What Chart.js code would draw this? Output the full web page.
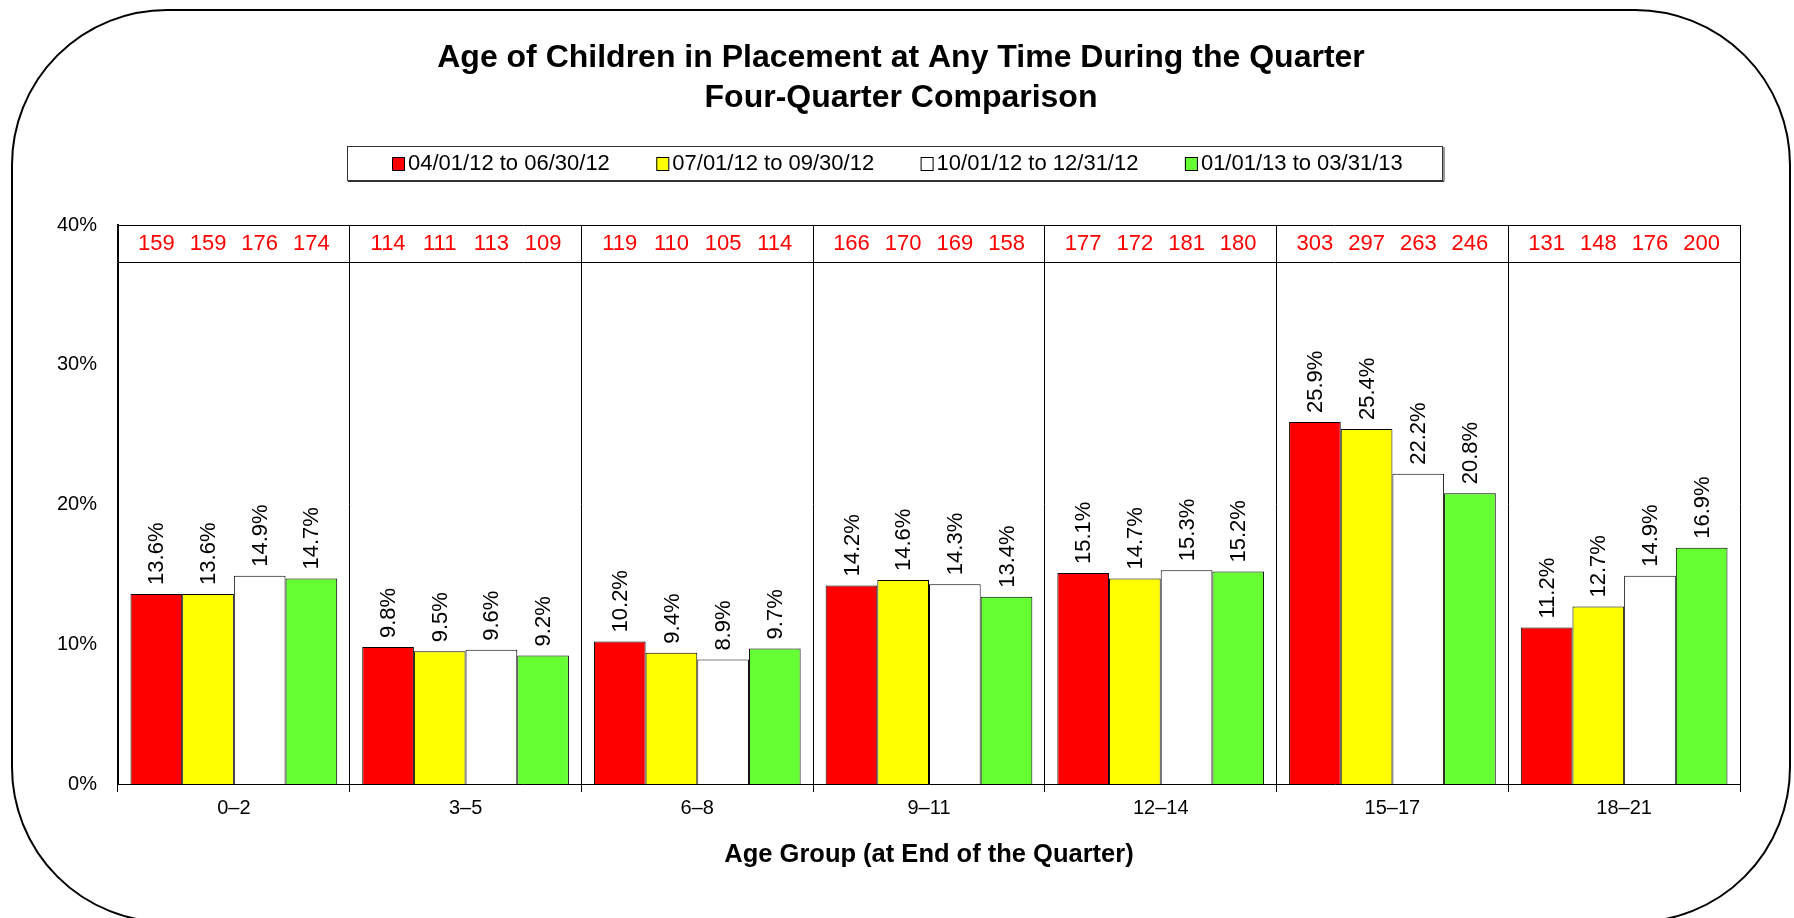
<!DOCTYPE html>
<html>
<head>
<meta charset="utf-8">
<title>Age of Children in Placement</title>
<script src="https://cdn.jsdelivr.net/npm/chart.js@4.4.1/dist/chart.umd.min.js"></script>
<style>
  html, body { margin: 0; padding: 0; background: #fff; }
  canvas { display: block; }
</style>
</head>
<body>
<canvas id="chart" width="1794" height="918"></canvas>
<script>
const AGE_GROUPS = ['0–2', '3–5', '6–8', '9–11', '12–14', '15–17', '18–21']
const QUARTERS = ['04/01/12 to 06/30/12', '07/01/12 to 09/30/12', '10/01/12 to 12/31/12', '01/01/13 to 03/31/13']
const COLORS = ['#ff0000', '#ffff00', '#ffffff', '#66ff33']

// percent of children in each age group
const PCT_Q1 = [13.6, 9.8, 10.2, 14.2, 15.1, 25.9, 11.2]
const PCT_Q2 = [13.6, 9.5, 9.4, 14.6, 14.7, 25.4, 12.7]
const PCT_Q3 = [14.9, 9.6, 8.9, 14.3, 15.3, 22.2, 14.9]
const PCT_Q4 = [14.7, 9.2, 9.7, 13.4, 15.2, 20.8, 16.9]

// head counts shown in the red row at the top
const COUNT_Q1 = [159, 114, 119, 166, 177, 303, 131]
const COUNT_Q2 = [159, 111, 110, 170, 172, 297, 148]
const COUNT_Q3 = [176, 113, 105, 169, 181, 263, 176]
const COUNT_Q4 = [174, 109, 114, 158, 180, 246, 200]

const Y_MAX = 40
const Y_STEP = 10

const TITLE_LINES = ['Age of Children in Placement at Any Time During the Quarter', 'Four-Quarter Comparison']
const X_TITLE = 'Age Group (at End of the Quarter)'

const FONT = '"Liberation Sans", Arial, Helvetica, sans-serif'
const INK = '#000'

const PCTS = [PCT_Q1, PCT_Q2, PCT_Q3, PCT_Q4]
const COUNTS = [COUNT_Q1, COUNT_Q2, COUNT_Q3, COUNT_Q4]

const decor = {
  id: 'decor',
  beforeDraw(chart) {
    const ctx = chart.ctx
    ctx.save()
    // rounded outer frame
    ctx.strokeStyle = INK
    ctx.lineWidth = 2
    ctx.beginPath()
    ctx.roundRect(12, 10, 1778, 912, 155)
    ctx.stroke()

    // title
    ctx.fillStyle = INK
    ctx.font = `bold 32px ${FONT}`
    ctx.textAlign = 'center'
    ctx.textBaseline = 'middle'
    ctx.fillText(TITLE_LINES[0], 901, 58)
    ctx.fillText(TITLE_LINES[1], 901, 98)

    // legend box
    ctx.lineWidth = 1
    ctx.strokeStyle = '#333'
    ctx.strokeRect(347.5, 146.5, 1095, 34)
    ctx.beginPath()
    ctx.moveTo(348, 181.5); ctx.lineTo(1444, 181.5); ctx.lineTo(1444, 147)
    ctx.stroke()
    ctx.font = `22px ${FONT}`
    ctx.textAlign = 'left'
    QUARTERS.forEach((q, i) => {
      const x = 392 + i * 264.3
      ctx.fillStyle = COLORS[i]
      ctx.fillRect(x, 157, 12, 13)
      ctx.strokeStyle = INK
      ctx.strokeRect(x + 0.5, 157.5, 12, 13)
      ctx.fillStyle = INK
      ctx.fillText(q, x + 16, 164)
    })

    // x axis title
    ctx.font = `bold 25.5px ${FONT}`
    ctx.textAlign = 'center'
    ctx.fillText(X_TITLE, 929, 855)
    ctx.restore()
  },
  afterDatasetsDraw(chart) {
    const ctx = chart.ctx
    const { left, right, top } = chart.chartArea
    ctx.save()
    ctx.strokeStyle = INK
    ctx.lineWidth = 1
    ctx.beginPath()
    ctx.moveTo(left, top + 0.5); ctx.lineTo(right, top + 0.5)
    ctx.moveTo(left, top + 37.5); ctx.lineTo(right, top + 37.5)
    ctx.stroke()

    chart.data.datasets.forEach((ds, di) => {
      const meta = chart.getDatasetMeta(di)
      meta.data.forEach((bar, i) => {
        // count row
        ctx.fillStyle = '#ff0000'
        ctx.font = `22px ${FONT}`
        ctx.textAlign = 'center'
        ctx.textBaseline = 'middle'
        ctx.fillText(String(COUNTS[di][i]), bar.x, top + 19)
        // rotated value label
        ctx.save()
        ctx.translate(bar.x, bar.y - 9)
        ctx.rotate(-Math.PI / 2)
        ctx.fillStyle = INK
        ctx.textAlign = 'left'
        ctx.fillText(ds.data[i].toFixed(1) + '%', 0, 1)
        ctx.restore()
      })
    })
    ctx.restore()
  },
}

new Chart(document.getElementById('chart'), {
  type: 'bar',
  data: {
    labels: AGE_GROUPS,
    datasets: QUARTERS.map((q, i) => ({
      label: q,
      data: PCTS[i],
      backgroundColor: COLORS[i],
      borderColor: INK,
      borderWidth: 1,
      categoryPercentage: 0.892,
      barPercentage: 1.0,
    })),
  },
  options: {
    responsive: false,
    animation: false,
    devicePixelRatio: 1,
    layout: { padding: { left: 48, right: 54, top: 225, bottom: 0 } },
    plugins: {
      legend: { display: false },
      title: { display: false },
      tooltip: { enabled: false },
    },
    scales: {
      x: {
        afterFit(scale) { scale.height = 134 },
        grid: { display: true, offset: true, color: INK, lineWidth: 1, drawTicks: true, tickLength: 8 },
        border: { display: true, color: INK, width: 1 },
        ticks: { color: INK, font: { family: FONT, size: 20 }, padding: 4 },
      },
      y: {
        min: 0,
        max: Y_MAX,
        afterFit(scale) { scale.width = 70 },
        grid: { display: false, drawTicks: false },
        border: { display: true, color: INK, width: 2 },
        ticks: {
          stepSize: Y_STEP,
          color: INK,
          font: { family: FONT, size: 20 },
          padding: 21,
          callback: (v) => v + '%',
        },
      },
    },
  },
  plugins: [decor],
})
</script>
</body>
</html>
